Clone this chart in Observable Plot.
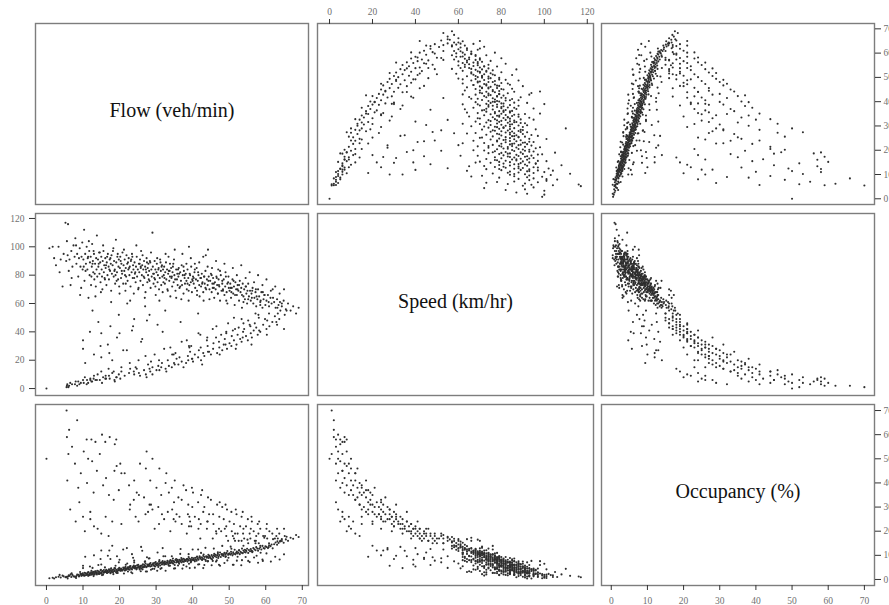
<!DOCTYPE html>
<html><head><meta charset="utf-8">
<script src="https://cdn.jsdelivr.net/npm/d3@7"></script>
<script src="https://cdn.jsdelivr.net/npm/@observablehq/plot@0.6"></script>
<style>
html,body{margin:0;padding:0;background:#fff;}
#chart{position:relative;width:889px;height:605px;overflow:hidden;background:#fff;}
#chart svg{position:absolute;}
</style></head><body><div id="chart"></div>
<script>
// Variable names (diagonal labels)
const variables = ["Flow (veh/min)", "Speed (km/hr)", "Occupancy (%)"];
// Tick labels
const flowTicks = [0, 10, 20, 30, 40, 50, 60, 70];
const speedTicks = [0, 20, 40, 60, 80, 100, 120];
const occTicks = [0, 10, 20, 30, 40, 50, 60, 70];

// Observations read from the picture: [flow, speed, occupancy]
// free-flow regime
const freeFlow = [
[0.8,99,0.5],[1.7,100,0.7],[2.6,87,0.9],[3.3,100,1.1],[3.9,91,0.8],[4.4,72,1.6],[4.7,95,1.3],[2.1,92,0.4],
[5.2,117,0.9],[5.9,116,1.2],[5.6,104,1.0],[6.3,91,1.5],[6.8,97,1.0],[7.1,86,1.9],[7.4,101,1.3],[5.4,90,1.1],[6.1,83,1.7],[7.7,93,1.2],[6.6,73,2.1],[7.9,106,1.0],
[8.2,88,1.4],[8.4,95,2.0],[8.7,79,1.9],[8.9,92,1.2],[9.1,99,1.6],[9.3,86,2.3],[9.5,71,2.2],[9.6,93,1.5],[9.8,103,1.8],[9.9,84,2.6],
[10.1,91,2.0],[10.3,112,1.5],[10.4,76,2.8],[10.6,95,1.7],[10.8,88,2.5],[11.0,100,1.9],[11.2,84,2.2],[11.3,92,2.9],[11.5,64,3.1],[11.7,97,2.1],[11.8,80,2.6],[11.9,89,1.8],
[12.1,93,2.4],[12.2,73,3.0],[12.4,86,2.0],[12.5,102,2.3],[12.7,90,2.8],[12.8,82,3.2],[13.0,95,2.2],[13.1,77,2.7],[13.3,88,3.3],[13.4,65,3.4],[13.6,92,2.5],[13.7,84,2.9],[13.8,108,2.1],[13.9,79,3.6],
[14.1,91,2.7],[14.2,86,3.4],[14.4,96,2.3],[14.5,81,3.1],[14.7,89,2.6],[14.8,75,3.8],[15.0,93,3.0],[15.1,84,2.5],[15.3,70,3.5],[15.4,90,3.3],[15.6,97,2.8],[15.7,82,3.9],[15.8,87,2.9],[15.9,78,3.2],
[16.1,92,3.1],[16.2,85,3.7],[16.4,73,4.0],[16.5,89,2.8],[16.7,80,3.4],[16.8,95,3.6],[17.0,86,3.0],[17.1,77,4.2],[17.3,91,3.3],[17.4,83,3.8],[17.6,88,2.9],[17.7,69,4.4],[17.8,94,3.5],[17.9,81,3.2],
[18.1,87,3.9],[18.2,97,3.0],[18.4,79,4.1],[18.5,90,3.4],[18.7,84,3.7],[18.8,74,4.6],[19.0,105,3.1],[19.1,89,4.0],[19.3,82,3.5],[19.4,93,3.3],[19.6,77,4.3],[19.7,86,3.8],[19.8,91,4.2],[19.9,72,4.8],
[20.1,85,4.0],[20.2,93,3.6],[20.4,78,4.5],[20.5,88,4.1],[20.7,81,3.9],[20.8,96,3.7],[21.0,74,4.9],[21.1,87,4.3],[21.3,83,4.7],[21.4,91,3.8],[21.6,69,5.2],[21.7,85,4.4],[21.8,79,4.0],[21.9,94,4.2],
[22.1,88,4.6],[22.2,76,5.0],[22.4,84,4.2],[22.5,92,4.5],[22.7,80,5.3],[22.8,86,4.0],[23.0,72,5.6],[23.1,90,4.7],[23.3,82,4.4],[23.4,95,4.1],[23.6,78,5.1],[23.7,87,4.9],[23.8,84,5.5],[23.9,67,5.8],
[24.1,89,4.6],[24.2,81,5.2],[24.4,75,5.6],[24.5,86,4.8],[24.7,93,4.4],[24.8,79,5.9],[25.0,84,5.0],[25.1,70,6.1],[25.3,88,5.3],[25.4,82,4.7],[25.6,91,5.1],[25.7,76,5.7],[25.8,85,5.5],[25.9,97,4.5],
[26.1,80,5.8],[26.2,87,5.0],[26.4,73,6.3],[26.5,84,5.4],[26.7,90,5.2],[26.8,78,6.0],[27.0,86,5.6],[27.1,68,6.6],[27.3,82,5.1],[27.4,92,5.3],[27.6,75,6.2],[27.7,85,5.9],[27.8,80,5.5],[27.9,88,6.1],
[28.1,83,5.7],[28.2,76,6.4],[28.4,89,5.4],[28.5,71,6.8],[28.7,84,6.0],[28.8,79,5.6],[29.0,110,4.4],[29.1,86,6.2],[29.3,74,6.6],[29.4,81,5.8],[29.6,90,5.5],[29.7,77,6.9],[29.8,84,6.3],[29.9,66,7.2],
[30.1,82,6.0],[30.2,88,6.5],[30.4,75,6.7],[30.5,80,5.9],[30.7,85,6.3],[30.8,70,7.3],[31.0,78,6.6],[31.1,91,5.8],[31.3,83,6.9],[31.4,73,7.1],[31.6,87,6.2],[31.7,79,6.4],[31.8,68,7.6],[31.9,84,7.0],
[32.1,80,6.8],[32.2,86,6.1],[32.4,74,7.4],[32.5,82,6.6],[32.7,89,6.3],[32.8,77,7.0],[33.0,84,6.9],[33.1,70,7.7],[33.3,81,6.4],[33.4,93,6.0],[33.6,76,7.5],[33.7,83,7.1],[33.8,79,6.7],[33.9,65,8.0],
[34.1,85,6.9],[34.2,78,7.4],[34.4,72,7.8],[34.5,82,6.8],[34.7,88,6.5],[34.8,75,7.6],[35.0,80,7.2],[35.1,98,6.0],[35.3,69,8.1],[35.5,84,7.0],[35.7,77,7.7],[35.8,81,7.3],[35.9,73,8.2],
[36.1,79,7.5],[36.2,85,7.0],[36.4,71,8.1],[36.6,82,7.4],[36.8,76,7.9],[37.0,87,7.1],[37.1,73,8.4],[37.3,80,7.6],[37.5,67,8.6],[37.6,83,7.3],[37.8,78,8.0],[37.9,74,7.8],[36.9,63,8.9],
[38.1,81,7.7],[38.3,76,8.2],[38.4,70,8.5],[38.6,84,7.4],[38.8,78,8.0],[39.0,100,6.5],[39.1,73,8.7],[39.3,80,7.9],[39.5,75,8.4],[39.6,86,7.6],[39.8,68,9.0],[39.9,77,8.3],[38.9,62,9.3],
[40.1,79,8.1],[40.3,74,8.8],[40.5,82,7.9],[40.7,71,9.0],[40.9,77,8.4],[41.1,85,7.8],[41.2,69,9.3],[41.4,76,8.6],[41.6,80,8.2],[41.8,73,9.1],[41.9,65,9.6],[40.6,88,7.5],
[42.1,78,8.6],[42.3,72,9.2],[42.5,81,8.3],[42.7,75,8.9],[42.9,68,9.7],[43.1,79,8.5],[43.3,74,9.3],[43.5,83,8.2],[43.7,70,9.6],[43.9,77,9.0],[43.0,62,10.3],[43.6,94,7.7],
[44.1,73,9.4],[44.2,98,7.6],[44.4,79,8.9],[44.6,70,9.8],[44.8,76,9.2],[45.0,81,8.7],[45.2,68,10.1],[45.4,74,9.5],[45.6,78,9.0],[45.8,71,9.9],[45.9,64,10.6],[45.3,85,8.4],
[46.1,75,9.6],[46.3,70,10.2],[46.5,79,9.2],[46.7,73,9.9],[46.9,67,10.6],[47.1,77,9.5],[47.3,72,10.1],[47.5,62,11.2],[47.7,80,9.3],[47.9,69,10.5],[47.0,84,8.9],
[48.1,74,10.0],[48.3,70,10.5],[48.5,77,9.7],[48.7,66,11.0],[48.9,72,10.3],[49.1,79,9.6],[49.3,68,10.9],[49.5,60,11.8],[49.7,75,10.2],[49.9,71,10.6],[49.0,82,9.3],
[50.1,69,10.8],[50.3,74,10.3],[50.5,64,11.5],[50.7,71,10.7],[50.9,77,10.0],[51.1,67,11.3],[51.3,72,10.6],[51.5,59,12.3],[51.7,75,10.4],[51.9,70,11.0],
[52.1,66,11.6],[52.3,73,10.8],[52.5,69,11.2],[52.7,62,12.1],[52.9,76,10.5],[53.1,68,11.5],[53.3,71,11.1],[53.5,57,12.8],[53.7,74,10.9],[53.9,65,12.0],
[54.1,70,11.4],[54.3,63,12.3],[54.5,72,11.2],[54.7,67,11.8],[54.9,60,12.7],[55.2,74,11.0],[55.4,65,12.2],[55.7,69,11.7],[55.9,62,12.6],
[56.1,67,12.0],[56.4,71,11.6],[56.6,60,13.0],[56.9,64,12.5],[57.2,68,12.1],[57.4,58,13.4],[57.7,63,12.8],[57.9,70,11.9],
[58.2,65,12.7],[58.5,61,13.3],[58.8,68,12.4],[59.1,57,13.9],[59.4,63,13.0],[59.7,66,12.8],[59.9,59,13.7],
[60.2,62,13.5],[60.6,66,13.0],[60.9,58,14.2],[61.3,64,13.8],[61.6,60,14.5],[61.9,70,12.9],
[62.3,61,14.6],[62.7,57,15.3],[63.1,63,14.4],[63.5,59,15.1],[63.9,61,15.7],
[64.4,58,15.9],[64.9,62,15.2],[65.5,56,16.6],[66.1,60,16.0],[66.8,55,17.3],[67.5,58,16.9],[68.3,53,18.4],[69.0,57,17.6]
];

// free-flow observations lying off the main band
const freeFlowScatter = [
[3.6,82,1.9],[5.8,94,0.4],[6.9,78,2.6],[8.1,101,0.6],[9.2,66,3.1],[10.7,83,2.6],[11.6,104,1.7],[12.3,79,3.6],[12.9,97,1.4],[13.5,72,3.0],
[14.3,88,2.4],[14.9,68,4.0],[15.5,101,2.0],[16.0,77,5.0],[16.6,93,2.7],[17.2,84,4.0],[17.7,61,4.6],[18.3,99,2.2],[18.9,80,5.7],[19.5,95,2.7],
[20.0,67,4.2],[20.6,83,3.7],[21.2,98,2.5],[21.7,74,6.1],[22.3,89,3.3],[22.9,62,5.5],[23.5,93,2.6],[24.0,78,7.0],[24.6,101,4.2],[25.2,71,5.5],
[25.8,86,3.4],[26.3,94,4.2],[26.9,64,7.3],[27.5,89,3.3],[28.0,77,8.7],[28.6,96,4.0],[29.2,81,6.7],[29.8,72,5.4],[30.3,92,3.6],[30.9,62,8.0],
[31.5,86,4.7],[32.0,75,9.6],[32.6,95,3.6],[33.2,69,7.0],[33.8,88,5.7],[34.3,79,9.6],[34.9,91,4.5],[35.5,64,8.5],[36.0,84,5.8],[36.6,72,10.6],
[37.2,95,4.5],[37.8,80,8.3],[38.3,88,5.4],[38.9,69,10.5],[39.5,92,7.1],[40.0,76,12.4],[40.6,84,4.9],[41.2,66,9.5],[41.8,89,6.3],[42.3,78,11.0],
[42.9,93,4.7],[43.5,71,13.1],[44.1,86,7.5],[44.6,63,9.4],[45.2,80,5.9],[45.8,74,12.8],[46.4,90,7.4],[46.9,67,11.3],[47.5,83,5.7],[48.1,76,13.9],
[48.7,88,6.8],[49.2,62,10.8],[49.8,79,9.0],[50.4,71,13.6],[51.0,85,6.1],[51.6,66,16.0],[52.1,80,7.8],[52.7,73,12.1],[53.3,87,5.9],[53.9,61,14.0],
[54.5,78,9.3],[55.0,69,16.5],[55.6,82,7.2],[56.2,64,11.8],[56.8,75,9.1],[57.3,70,16.0],[57.9,80,6.9],[58.5,59,14.0],[59.1,73,8.3],[59.6,66,17.3],
[60.2,77,10.8],[60.8,61,13.4],[61.4,69,7.4],[62.0,64,16.7],[62.6,72,9.4],[63.2,57,15.8],[63.8,67,8.3],[64.4,60,16.7],[65.0,70,10.4],[65.7,55,17.7],
[10.2,86,1.9],[11.4,93,1.5],[12.6,88,2.9],[13.2,81,2.1],[14.6,96,2.5],[15.2,79,1.8],[16.3,87,3.4],[17.5,92,2.6],[18.6,83,4.7],[19.2,76,2.7],
[20.3,90,3.7],[21.5,80,3.7],[22.6,85,5.0],[23.2,91,3.0],[24.3,82,4.9],[25.5,88,4.1],[26.6,79,5.1],[27.2,84,3.3],[28.3,90,6.5],[29.5,78,4.4],
[30.6,84,5.2],[31.2,89,4.4],[32.3,78,6.8],[33.5,83,5.7],[34.6,86,8.7],[35.2,77,4.6],[36.3,81,6.5],[37.5,86,6.0],[38.6,74,8.5],[39.2,81,4.7],
[40.3,78,8.1],[41.5,82,6.2],[42.6,74,8.1],[43.2,79,6.0],[44.3,76,10.2],[45.5,71,7.7],[46.6,78,7.9],[47.2,73,6.1],[48.3,69,10.1],[49.5,74,7.9],
[50.6,68,12.7],[51.2,76,6.1],[52.3,70,9.4],[53.5,66,8.0],[54.6,72,12.0],[55.2,63,7.7],[56.3,69,11.3],[57.5,65,9.8],[58.6,62,11.1],[59.2,68,7.7]
];

// congested regime
const congested = [
[6.2,2,62],[7.8,3,48],[9.4,4,44],[10.2,4,53],[12.5,5,49],[8.7,5,38],[13.8,6,45],[11.1,6,40],
[16.3,7,42],[12.9,7,36],[19.2,8,47],[15.5,8,39],[21.4,9,44],[17.1,9,35],
[24.0,10,41],[19.8,10,37],[27.2,10,46],[22.6,11,39],[25.3,11,35],[28.4,12,41],[23.9,12,33],[20.5,12,44],
[30.1,13,38],[26.7,13,34],[32.6,14,40],[28.2,14,31],[24.7,14,36],[31.4,15,35],[29.0,15,29],[34.3,15,38],
[33.5,16,36],[30.6,16,30],[36.1,17,34],[27.8,17,28],[34.9,18,32],[38.2,18,37],[31.6,18,27],
[37.0,19,33],[40.1,19,36],[33.2,20,28],[38.8,20,31],[42.3,20,35],[35.6,21,27],[39.9,21,30],
[41.5,22,32],[36.4,22,26],[43.2,23,30],[38.7,23,27],[45.0,24,33],[40.6,24,26],[34.8,24,25],
[42.9,25,28],[46.7,25,31],[39.3,26,24],[44.5,26,27],[48.1,27,30],[41.7,27,25],
[45.6,28,27],[49.4,28,29],[42.2,29,23],[47.3,29,26],[50.6,30,28],[44.1,30,24],[39.0,30,22],
[48.5,31,25],[52.0,31,27],[45.7,32,23],[50.1,32,24],[53.4,33,26],[47.2,33,21],
[51.3,34,23],[55.1,34,25],[48.8,35,21],[53.0,35,22],[56.2,36,24],[46.4,36,20],
[50.7,37,20],[54.6,37,22],[57.8,38,23],[52.3,38,19],[55.9,39,21],[49.2,39,18],
[53.8,40,19],[58.5,40,21],[51.0,41,18],[56.7,41,20],[60.2,42,21],[54.1,42,17],
[57.4,43,18],[52.6,43,16],[61.0,44,20],[55.8,44,17],[59.3,45,18],[63.1,45,21],
[57.0,46,16],[61.8,47,19],[55.2,48,15],[60.4,48,17],[63.7,49,19],[58.1,50,15],[62.5,51,17],[65.2,52,18],[60.9,53,15],[64.0,55,16],
[0,0,50],[5.5,1,70],[5.6,2,59],[5.7,3,41],[6,1,52],[7,3,55],[11,3,58],[12.3,5,58],[13.4,6,57],[14.6,6,52],[15.2,4,60],[16.1,7,57],[17.3,7,59],[19.1,8,58],[18.7,5,56],[11.4,4,50],[18.6,6,45],[20.2,7,48],[29.0,10,50],[8.4,2,66],
[8,5,24],[10,6,26],[10.5,8,20],[12,7,25],[13,9,22],[14,10,21],[15,12,19],[17,14,18],[18,11,24],[12,6,28],[9,3,32],[6.5,4,29],[16.2,9,26],
[10,34,4.7],[10,28,5.7],[15,39,6.2],[20,39,8.2],[24,49,7.8],[27.5,48,9.2],[10.6,18,9.4],[21,27,12.4],[22,27,13],[27,58,7.5],[15,22,12],[18,20,14],[13,24,10],[17.5,44,8.5],[19.8,52,7.1],[14.2,47,6.0],[23.4,41,10.5],[12.6,55,4.8],[26.2,35,11.9],[16.8,31,9.8],[30.4,45,11.2],[11.9,40,5.4],[22.1,60,6.6]
];

// congested observations lying off the main curve
const congestedScatter = [
[20.5,15,23],[24.4,15,26],[25.2,20,24],[30.8,20,23],[29.6,24,21],[35.3,25,24],[33.9,29,20],[39.6,30,22],[38.4,34,19],[43.9,34,21],
[42.1,38,17],[47.8,38,20],[45.5,42,17],[51.6,42,19],[49.7,46,16],[55.6,45,19],[53.4,49,16],[59.8,49,18],[57.2,53,15],[63.3,53,17],
[25.6,9,48],[27.4,8,53],[32.8,12,44],[30.9,13,46],[37.5,15,39],[35.1,17,41],[42.6,17,37],[39.8,21,38],[47.4,24,32],[44.2,26,34],
[51.8,28,29],[49.0,31,31],[56.1,31,26],[53.7,36,28],[60.3,38,23],[58.2,41,24],[65.0,42,21],[62.9,47,18],
[18.4,12,33],[22.9,14,31],[22.8,18,29],[28.6,19,31],[27.1,23,27],[34.4,24,29],[32.2,28,25],[39.1,29,26],[37.0,33,23],[44.0,36,24],
[41.6,39,21],[49.2,40,22],[46.5,44,19],[53.9,46,21],[51.3,50,17],[58.0,52,19],
[14.8,30,8.5],[19.3,36,9.6],[23.7,44,9.0],[28.2,52,8.8],[32.5,55,9.6],[17.2,25,12],[25.9,33,13.5],[31.8,40,13],[36.7,47,12.6],[41.5,53,12.4]
];

const records = [...freeFlow, ...freeFlowScatter, ...congested, ...congestedScatter]
  .map(([flow, speed, occ]) => ({flow, speed, occ}));
const keys = ["flow", "speed", "occ"];
const ticks = [flowTicks, speedTicks, occTicks];

// Layout of the 3x3 matrix (pixel frame of each panel)
const colEdges = [[35, 308], [317, 593], [601, 874]];
const rowEdges = [[23, 204], [213, 395], [404, 585]];
const xDomains = [[-3.0, 71.7], [-5.6, 122.9], [-2.7, 72.8]];
const yDomains = [[-2.35, 72.2], [-4.9, 123.5], [-2.5, 72.5]];
// which axes are drawn where (R pairs style alternation)
const xAxisAt = {"0,1": "top", "2,0": "bottom", "2,2": "bottom"};
const yAxisAt = {"0,2": "right", "1,0": "left", "2,2": "right"};

const chart = document.getElementById("chart");
const M = 40;
const serif = "'Liberation Serif', 'DejaVu Serif', 'Times New Roman', serif";

for (let r = 0; r < 3; r++) {
  for (let c = 0; c < 3; c++) {
    const [x0, x1] = colEdges[c];
    const [y0, y1] = rowEdges[r];
    const marks = [];
    if (r === c) {
      marks.push(Plot.text([variables[r]], {text: d => d, frameAnchor: "middle", dy: -3, fontSize: 20, fontFamily: serif, fill: "#111"}));
    } else {
      marks.push(Plot.dot(records, {x: keys[c], y: keys[r], r: 1.05, fill: "#2e2e2e", stroke: "none"}));
    }
    marks.push(Plot.frame({stroke: "#7d7d7d", strokeWidth: 1.4}));
    const xa = xAxisAt[r + "," + c];
    const ya = yAxisAt[r + "," + c];
    if (xa) marks.push(Plot.axisX(ticks[c], {anchor: xa, tickSize: 5, tickPadding: xa === "top" ? 4 : 7, fontSize: 9.5, color: "#707070", stroke: "#333", label: null}));
    if (ya) marks.push(Plot.axisY(ticks[r], {anchor: ya, tickSize: 6, tickPadding: ya === "left" ? 5 : 3, fontSize: 9.5, color: "#707070", stroke: "#333", label: null}));
    const svg = Plot.plot({
      width: x1 - x0 + 2 * M,
      height: y1 - y0 + 2 * M,
      margin: M,
      style: {background: "transparent", overflow: "visible", fontFamily: serif},
      x: {domain: xDomains[c], axis: xa ? undefined : null},
      y: {domain: yDomains[r], axis: ya ? undefined : null},
      marks
    });
    svg.style.position = "absolute";
    svg.style.left = (x0 - M) + "px";
    svg.style.top = (y0 - M) + "px";
    svg.style.maxWidth = "none";
    chart.appendChild(svg);
  }
}
</script></body></html>
